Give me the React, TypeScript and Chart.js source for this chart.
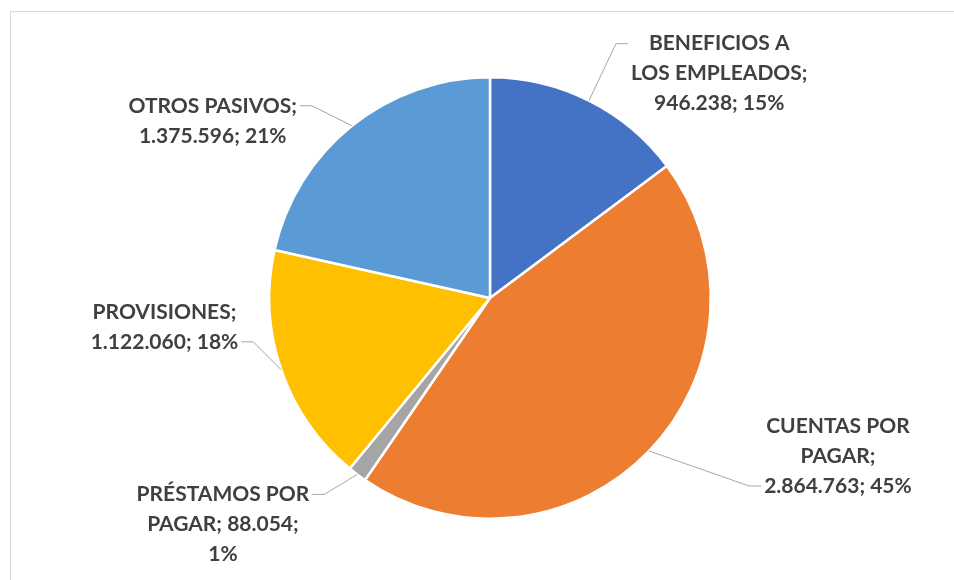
import React, { useEffect, useRef } from "react";
import { Chart, registerables } from "chart.js";

Chart.register(...registerables);

const categories = [
  "BENEFICIOS A LOS EMPLEADOS",
  "CUENTAS POR PAGAR",
  "PRÉSTAMOS POR PAGAR",
  "PROVISIONES",
  "OTROS PASIVOS",
];
const values = [946238, 2864763, 88054, 1122060, 1375596];
const percentLabels = [15, 45, 1, 18, 21];
const colors = ["#4472C4", "#ED7D31", "#A5A5A5", "#FFC000", "#5B9BD5"];

// label layout (style only)
const wordsPerLine = [[2, 2, 2], [2, 1, 2], [2, 2, 1], [1, 2], [2, 2]];
const attachLine = [0, 2, 0, 1, 0];
const elbowOffsets = [[27, -57], [100, 35], [-33, 20], [-28, -28], [-40, -20]];
const LEADER_H = 12;
const TEXT_GAP = 3;
const FONT = "bold 21px Lato";
const LINE_H = 30;
const TEXT_COLOR = "#404040";

const fmt = (v: number) => v.toString().replace(/\B(?=(\d{3})+(?!\d))/g, ".");

function buildLines(i: number): string[] {
  const words = `${categories[i]}; ${fmt(values[i])}; ${percentLabels[i]}%`.split(" ");
  const out: string[] = [];
  let k = 0;
  for (const n of wordsPerLine[i]) {
    out.push(words.slice(k, k + n).join(" "));
    k += n;
  }
  return out;
}

const labelPlugin = {
  id: "leaderLabels",
  afterDraw(chart: any) {
    const ctx = chart.ctx;
    const meta = chart.getDatasetMeta(0);
    ctx.save();
    // frame
    ctx.strokeStyle = "#D9D9D9";
    ctx.lineWidth = 1;
    ctx.strokeRect(10.5, 11.5, chart.width + 20, chart.height + 20);
    ctx.font = FONT;
    meta.data.forEach((arc: any, i: number) => {
      const { x, y, startAngle, endAngle, outerRadius } = arc.getProps(
        ["x", "y", "startAngle", "endAngle", "outerRadius"],
        true
      );
      const mid = (startAngle + endAngle) / 2;
      const ax = x + Math.cos(mid) * outerRadius;
      const ay = y + Math.sin(mid) * outerRadius;
      const ex = ax + elbowOffsets[i][0];
      const ey = ay + elbowOffsets[i][1];
      const dir = ex >= x ? 1 : -1;
      const lx = ex + dir * LEADER_H;
      ctx.strokeStyle = "#A6A6A6";
      ctx.lineWidth = 1;
      ctx.beginPath();
      ctx.moveTo(ax, ay);
      ctx.lineTo(ex, ey);
      ctx.lineTo(lx, ey);
      ctx.stroke();
      const lines = buildLines(i);
      const maxW = Math.max(...lines.map((l) => ctx.measureText(l).width));
      const cx = lx + dir * (TEXT_GAP + maxW / 2);
      ctx.fillStyle = TEXT_COLOR;
      ctx.textAlign = "center";
      ctx.textBaseline = "middle";
      lines.forEach((l, j) => {
        ctx.fillText(l, cx, ey + (j - attachLine[i]) * LINE_H);
      });
    });
    ctx.restore();
  },
};

export default function App() {
  const ref = useRef<HTMLCanvasElement>(null);
  useEffect(() => {
    document.body.style.margin = "0";
    const chart = new Chart(ref.current!, {
      type: "pie",
      data: {
        labels: categories,
        datasets: [
          {
            data: values,
            backgroundColor: colors,
            borderColor: "#FFFFFF",
            borderWidth: 2.5,
          },
        ],
      },
      options: {
        responsive: false,
        animation: false,
        layout: { padding: { top: 76, bottom: 60, left: 100, right: 74 } },
        plugins: {
          legend: { display: false },
          tooltip: { enabled: false },
        },
      },
      plugins: [labelPlugin],
    });
    return () => chart.destroy();
  }, []);
  return (
    <div style={{ width: 954, height: 580, background: "#fff" }}>
      <canvas ref={ref} width={954} height={580} />
    </div>
  );
}
